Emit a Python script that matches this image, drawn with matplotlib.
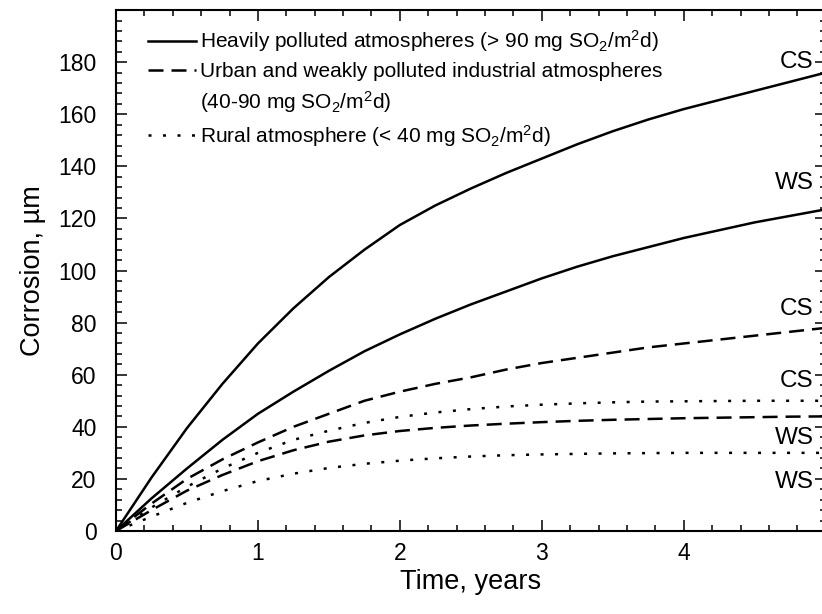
import matplotlib.pyplot as plt
from matplotlib.lines import Line2D
from matplotlib.ticker import MultipleLocator

plt.rcParams['font.family'] = ['Liberation Sans', 'DejaVu Sans']
plt.rcParams['mathtext.fontset'] = 'custom'
plt.rcParams['mathtext.rm'] = 'Liberation Sans'
plt.rcParams['mathtext.it'] = 'Liberation Sans'

# exposure time, years
t = [0, 0.25, 0.5, 0.75, 1, 1.25, 1.5, 1.75, 2, 2.25, 2.5,
     2.75, 3, 3.25, 3.5, 3.75, 4, 4.25, 4.5, 4.75, 5]

# corrosion depth, um
heavy_cs = [0, 20.5, 39.5, 56.5, 72, 85.5, 97.5, 108, 117.5, 125, 131.5,
            137.5, 143, 148.5, 153.5, 158, 162, 165.5, 169, 172.5, 176]
heavy_ws = [0, 12.5, 24, 35, 45, 53.5, 61.5, 69, 75.5, 81.5, 87,
            92, 97, 101.5, 105.5, 109, 112.5, 115.5, 118.5, 121, 123.5]
urban_cs = [0, 10.5, 20, 27.5, 34, 40, 45, 50, 53.5, 56.5, 59,
            62, 64.5, 66.5, 68.5, 70.5, 72, 73.5, 75, 76.5, 78]
urban_ws = [0, 8, 15.5, 21.5, 26.8, 31, 34.3, 36.7, 38.4, 39.6, 40.5,
            41.2, 41.8, 42.3, 42.7, 43, 43.3, 43.5, 43.7, 43.9, 44]
rural_cs = [0, 9, 17, 24, 30, 35, 38.5, 41.5, 43.8, 45.5, 46.8,
            47.8, 48.5, 49, 49.4, 49.7, 49.8, 49.9, 50, 50, 50]
rural_ws = [0, 5.5, 10.8, 15.3, 19.2, 22, 24.2, 25.8, 27, 27.9, 28.6,
            29.1, 29.4, 29.6, 29.8, 29.9, 30, 30, 30, 30, 30]

steel_labels = ['CS', 'WS', 'CS', 'CS', 'WS', 'WS']
label_y = [180, 133.8, 85.4, 57.7, 35.8, 18.8]

solid = '-'
dashed = (0, (6, 3.2))
dotted = (0, (1.2, 4.6))
lw = 1.8

fig = plt.figure(figsize=(8.22, 6.14), dpi=100)
ax = fig.add_axes([0.1411, 0.1352, 0.8634, 0.8483])

ax.plot(t, heavy_cs, color='black', lw=lw, ls=solid)
ax.plot(t, heavy_ws, color='black', lw=lw, ls=solid)
ax.plot(t, urban_cs, color='black', lw=lw, ls=dashed)
ax.plot(t, urban_ws, color='black', lw=lw, ls=dashed)
ax.plot(t, rural_cs, color='black', lw=lw, ls=dotted)
ax.plot(t, rural_ws, color='black', lw=lw, ls=dotted)

for lab, yv in zip(steel_labels, label_y):
    ax.text(4.915, yv, lab, ha='right', va='center', fontsize=17.5)

ax.set_xlim(0, 5)
ax.set_ylim(0, 200)
ax.set_xticks([0, 1, 2, 3, 4])
ax.set_yticks(range(0, 181, 20))
ax.xaxis.set_minor_locator(MultipleLocator(0.2))
ax.yaxis.set_minor_locator(MultipleLocator(4))
ax.tick_params(which='both', direction='in', top=True, right=True, width=1.1)
ax.tick_params(which='major', length=8, labelsize=16.5)
ax.tick_params(which='minor', length=4)
ax.tick_params(axis='x', pad=8)
ax.tick_params(axis='y', pad=14)
for sp in ax.spines.values():
    sp.set_linewidth(1.5)

ax.set_xlabel('Time, years', fontsize=19.5, labelpad=3)
ax.set_ylabel('Corrosion, \u00b5m', fontsize=19.5, labelpad=9)

handles = [
    Line2D([], [], color='black', lw=lw, ls=solid),
    Line2D([], [], color='black', lw=lw, ls=dashed),
    Line2D([], [], color='none'),
    Line2D([], [], color='black', lw=lw, ls=dotted),
]
labels = [
    'Heavily polluted atmospheres (> 90 mg SO$_2$/m$^2$d)',
    'Urban and weakly polluted industrial atmospheres',
    '(40-90 mg SO$_2$/m$^2$d)',
    'Rural atmosphere (< 40 mg SO$_2$/m$^2$d)',
]
ax.legend(handles, labels, loc='upper left', bbox_to_anchor=(0.045, 0.965),
          frameon=False, fontsize=15, handlelength=2.3, handletextpad=0.2,
          labelspacing=0.38, borderaxespad=0, borderpad=0)

fig.savefig('out.png', dpi=100)
